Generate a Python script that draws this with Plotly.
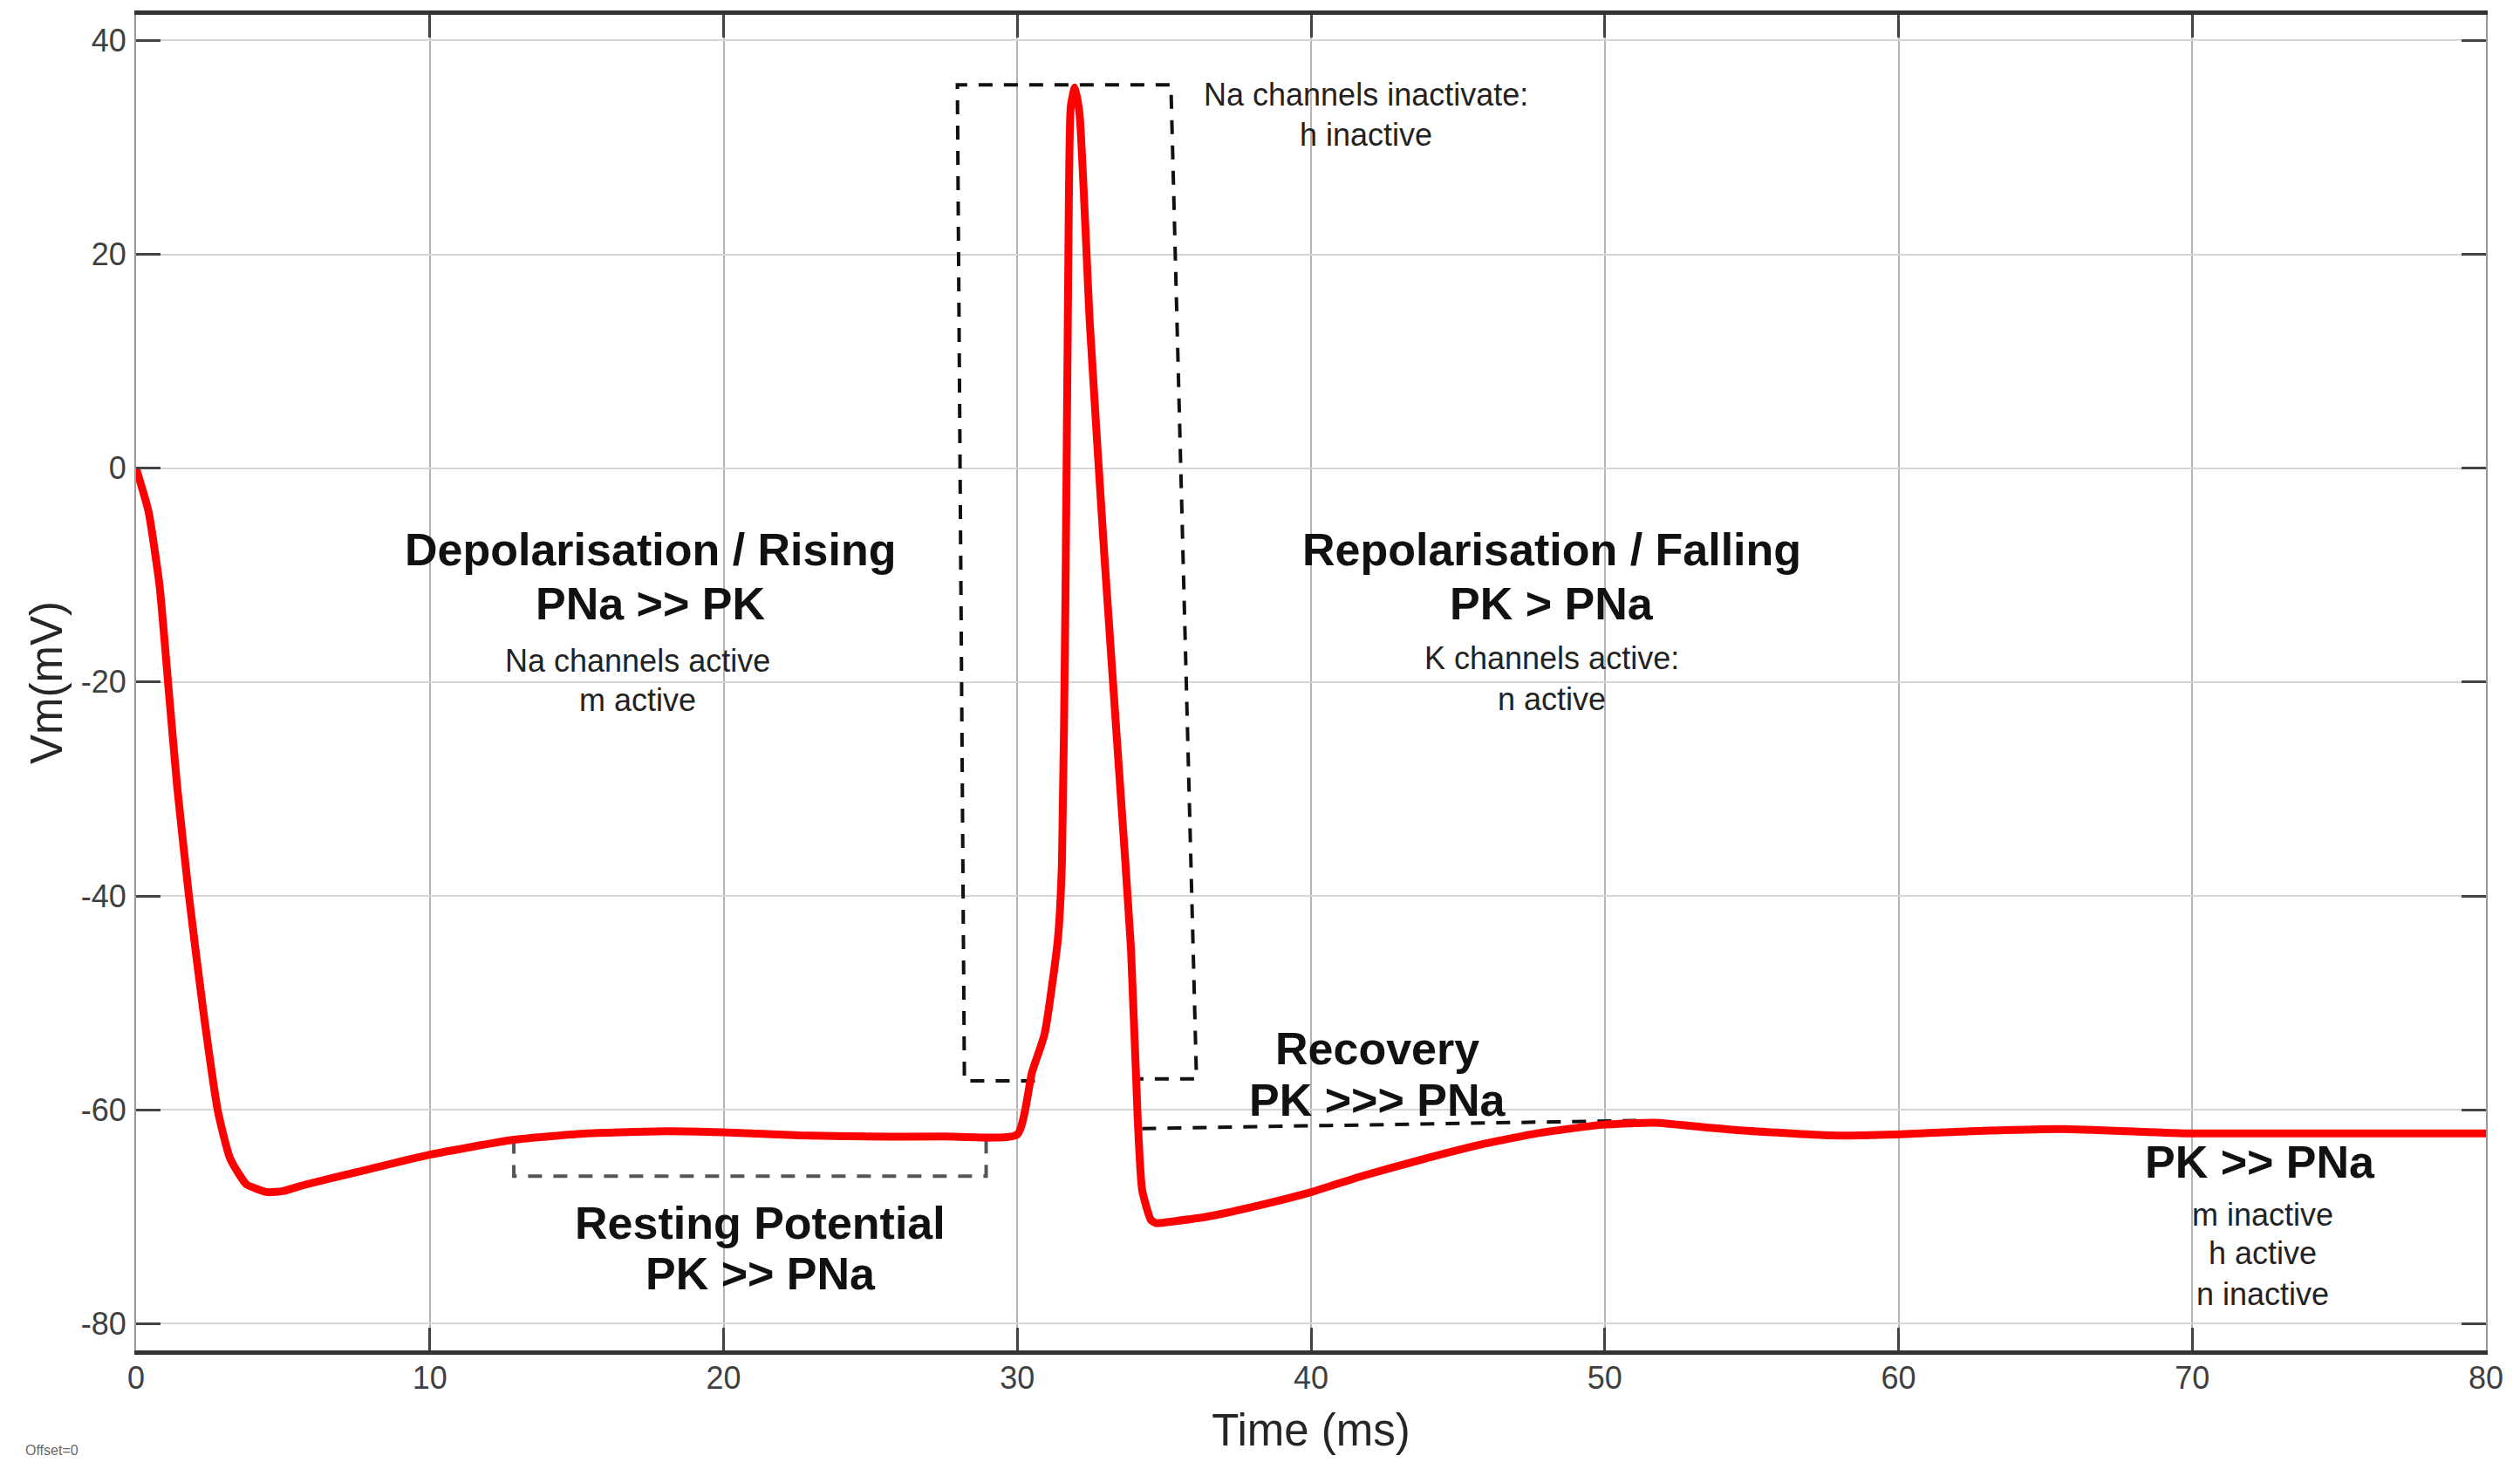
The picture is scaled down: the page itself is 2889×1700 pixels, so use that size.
#!/usr/bin/env python3

import plotly.graph_objects as go

# membrane potential trace (ms, mV)
time_ms = [0, 0.42, 0.8, 1.1, 1.4, 1.8, 2.29, 2.79, 3.18, 3.5, 3.77, 4.48, 5.0, 5.76,
           7.86, 10.0, 12.86, 15.35, 18.08, 20.0, 22.6, 24.9, 27.5, 30.0,
           30.5, 30.93, 31.38, 31.52, 31.64, 31.73, 31.82, 31.96, 32.12, 32.47,
           32.97, 33.46, 33.87, 34.1, 34.25, 34.55, 34.73, 35.4, 36.45, 38.44,
           40.0, 41.73, 43.7, 45.7, 47.7, 49.9, 51.7, 53.25, 54.5, 57.7, 59.9,
           62.5, 65.6, 69.7, 75.0, 80.0]
vm_mv = [0, -4.0, -11.0, -20.4, -29.8, -40.0, -50.8, -60.2, -64.4, -66.0, -67.0, -67.7, -67.6, -67.0,
         -65.6, -64.2, -62.8, -62.2, -62.0, -62.1, -62.4, -62.5, -62.5, -62.3,
         -56.5, -52.9, -44.1, -36.9, -12.1, 17.0, 33.8, 35.6, 33.1, 13.5,
         -8.4, -28.1, -44.9, -60.9, -67.5, -70.3, -70.6, -70.4, -70.0, -68.8,
         -67.7, -66.2, -64.7, -63.3, -62.2, -61.4, -61.2, -61.6, -61.9, -62.4, -62.3,
         -62.0, -61.8, -62.2, -62.2, -62.2]

# dashed guides
na_box_x = [30.6, 28.2, 27.96, 35.23, 36.1, 34.15]
na_box_y = [-57.3, -57.3, 35.85, 35.85, -57.1, -57.1]
rest_box_x = [12.86, 12.86, 28.94, 28.94]
rest_box_y = [-62.8, -66.2, -66.2, -62.5]
recovery_x = [34.25, 51.15]
recovery_y = [-61.75, -61.0]

x_ticks = [0, 10, 20, 30, 40, 50, 60, 70, 80]
y_ticks = [-80, -60, -40, -20, 0, 20, 40]
y_tick_labels = ["-80", "-60", "-40", "-20", "0", "20", "40"]

# (x, y, text, bold)
labels = [
    (17.5, -7.6, "Depolarisation / Rising", True),
    (17.5, -12.7, "PNa >> PK", True),
    (17.07, -18.0, "Na channels active", False),
    (17.07, -21.7, "m active", False),
    (48.2, -7.6, "Repolarisation / Falling", True),
    (48.2, -12.7, "PK > PNa", True),
    (48.2, -17.8, "K channels active:", False),
    (48.2, -21.6, "n active", False),
    (41.86, 34.9, "Na channels inactivate:", False),
    (41.86, 31.2, "h inactive", False),
    (42.27, -54.3, "Recovery", True),
    (42.27, -59.1, "PK >>> PNa", True),
    (21.26, -70.6, "Resting Potential", True),
    (21.26, -75.3, "PK >> PNa", True),
    (72.3, -64.9, "PK >> PNa", True),
    (72.4, -69.8, "m inactive", False),
    (72.4, -73.4, "h active", False),
    (72.4, -77.2, "n inactive", False),
]

FONT = "Liberation Sans, Arial, sans-serif"


def dashed(fig, x, y, color):
    fig.add_trace(go.Scatter(x=x, y=y, mode="lines", hoverinfo="skip", showlegend=False,
                             line={"color": color, "width": 4, "dash": "16px,13px"}))


def main():
    fig = go.Figure()
    dashed(fig, na_box_x, na_box_y, "#111111")
    dashed(fig, rest_box_x, rest_box_y, "#555555")
    dashed(fig, recovery_x, recovery_y, "#111111")
    fig.add_trace(go.Scatter(x=time_ms, y=vm_mv, mode="lines", showlegend=False,
                             line={"color": "#ff0000", "width": 9, "shape": "spline", "smoothing": 0.5}))

    for x, y, text, bold in labels:
        fig.add_annotation(
            x=x, y=y, xref="x", yref="y", showarrow=False,
            text=f"<b>{text}</b>" if bold else text,
            font={"family": FONT, "size": 52 if bold else 36, "color": "#111111" if bold else "#222222"},
            xanchor="center", yanchor="middle",
        )
    fig.add_annotation(x=-0.048, y=-0.0745, xref="paper", yref="paper", showarrow=False,
                       text="Offset=0", font={"family": FONT, "size": 16, "color": "#666666"},
                       xanchor="left", yanchor="middle")

    fig.update_layout(
        width=2889,
        height=1700,
        plot_bgcolor="white",
        paper_bgcolor="white",
        margin={"l": 156, "r": 39, "t": 17, "b": 152},
        font={"family": FONT},
    )
    fig.update_xaxes(
        range=[0, 80], tickvals=x_ticks, showgrid=True, gridcolor="#b4b4b4", gridwidth=2,
        zeroline=False, showline=True, linecolor="#333333", linewidth=5, mirror="ticks",
        ticks="inside", ticklen=26, tickwidth=3, tickcolor="#444444",
        tickfont={"size": 36, "color": "#404040"}, ticklabelstandoff=-4,
        title={"text": "Time (ms)", "font": {"size": 51, "color": "#262626"}, "standoff": 24},
        automargin=False,
    )
    fig.update_yaxes(
        range=[-82.5, 42.4], tickvals=y_ticks, ticktext=y_tick_labels, showgrid=True,
        gridcolor="#d6d6d6", gridwidth=2,
        zeroline=False, showline=True, linecolor="#999999", linewidth=2, mirror="ticks",
        ticks="inside", ticklen=28, tickwidth=3, tickcolor="#444444",
        tickfont={"size": 36, "color": "#404040"}, ticklabelstandoff=2,
        title={"text": "Vm(mV)", "font": {"size": 51, "color": "#262626"}, "standoff": 5},
        automargin=False,
    )

    # page body has a default margin; drop it so the figure fills the window exactly
    fig.write_html("out.html", config={"displayModeBar": False},
                   post_script="document.body.style.margin = '0';")


if __name__ == "__main__":
    main()
